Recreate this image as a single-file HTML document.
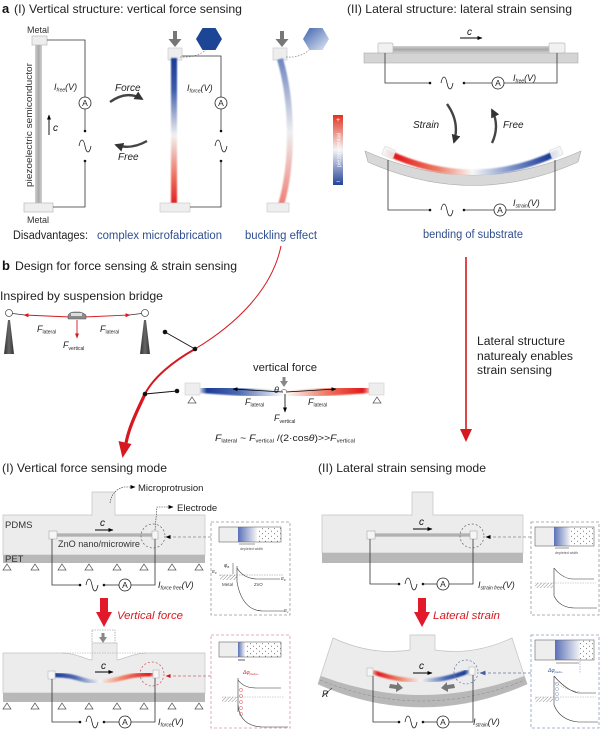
<!DOCTYPE html>
<html><head><meta charset="utf-8"><style>
html,body{margin:0;padding:0;background:#fff;}
svg{display:block;font-family:"Liberation Sans",Arial,sans-serif;}
</style></head><body>
<svg width="600" height="730" viewBox="0 0 600 730" xmlns="http://www.w3.org/2000/svg">
<defs>
<linearGradient id="gGray" x1="0" y1="0" x2="1" y2="0"><stop offset="0" stop-color="#d0d0d0"/><stop offset="0.5" stop-color="#a9a9a9"/><stop offset="1" stop-color="#d0d0d0"/></linearGradient>
<linearGradient id="gGrayH" x1="0" y1="0" x2="0" y2="1"><stop offset="0" stop-color="#cfcfcf"/><stop offset="0.5" stop-color="#a8a8a8"/><stop offset="1" stop-color="#cfcfcf"/></linearGradient>
<linearGradient id="gRod" gradientUnits="userSpaceOnUse" x1="0" y1="60" x2="0" y2="205"><stop offset="0" stop-color="#1b3c96"/><stop offset="0.2" stop-color="#3b5aa8"/><stop offset="0.52" stop-color="#f1f1f1"/><stop offset="0.8" stop-color="#ec7260"/><stop offset="1" stop-color="#e2191b"/></linearGradient>
<linearGradient id="gBuck" gradientUnits="userSpaceOnUse" x1="0" y1="60" x2="0" y2="205"><stop offset="0" stop-color="#6f86c2"/><stop offset="0.5" stop-color="#eeeeee"/><stop offset="1" stop-color="#ef7d74"/></linearGradient>
<linearGradient id="gBar" x1="0" y1="0" x2="0" y2="1"><stop offset="0" stop-color="#e2321f"/><stop offset="0.5" stop-color="#f4f4f4"/><stop offset="1" stop-color="#23439a"/></linearGradient>
<linearGradient id="gHex" x1="0" y1="0" x2="1" y2="1"><stop offset="0" stop-color="#3d62ad"/><stop offset="1" stop-color="#e3e9f4"/></linearGradient>
<linearGradient id="gBent" gradientUnits="userSpaceOnUse" x1="385" y1="0" x2="560" y2="0"><stop offset="0" stop-color="#f4c8c0"/><stop offset="0.06" stop-color="#e2191b"/><stop offset="0.3" stop-color="#ee7a62"/><stop offset="0.5" stop-color="#f7f7f7"/><stop offset="0.72" stop-color="#7d92c9"/><stop offset="0.94" stop-color="#1b3c96"/><stop offset="1" stop-color="#c7d0e8"/></linearGradient>
<linearGradient id="gBeamL" gradientUnits="userSpaceOnUse" x1="200" y1="0" x2="284" y2="0"><stop offset="0" stop-color="#c9d1e8"/><stop offset="0.08" stop-color="#1b3c96"/><stop offset="0.45" stop-color="#4a67b0"/><stop offset="1" stop-color="#ffffff"/></linearGradient>
<linearGradient id="gBeamR" gradientUnits="userSpaceOnUse" x1="284" y1="0" x2="370" y2="0"><stop offset="0" stop-color="#ffffff"/><stop offset="0.55" stop-color="#ec6a55"/><stop offset="0.92" stop-color="#e2191b"/><stop offset="1" stop-color="#f3c3bd"/></linearGradient>
<linearGradient id="gWireL" gradientUnits="userSpaceOnUse" x1="55" y1="0" x2="155" y2="0"><stop offset="0" stop-color="#1b3c96"/><stop offset="0.2" stop-color="#4d69b2"/><stop offset="0.45" stop-color="#f4f4f4"/><stop offset="0.65" stop-color="#ef8c70"/><stop offset="0.95" stop-color="#e2191b"/><stop offset="1" stop-color="#f0b0a8"/></linearGradient>
<linearGradient id="gWireR" gradientUnits="userSpaceOnUse" x1="372" y1="0" x2="470" y2="0"><stop offset="0" stop-color="#f0b0a8"/><stop offset="0.06" stop-color="#e2191b"/><stop offset="0.3" stop-color="#ef8c70"/><stop offset="0.5" stop-color="#f4f4f4"/><stop offset="0.75" stop-color="#4d69b2"/><stop offset="0.95" stop-color="#1b3c96"/><stop offset="1" stop-color="#c7d0e8"/></linearGradient>
<linearGradient id="gDep" x1="0" y1="0" x2="1" y2="0"><stop offset="0" stop-color="#5a70b8"/><stop offset="1" stop-color="#f6f6f6"/></linearGradient>
<linearGradient id="gTower" x1="0" y1="0" x2="1" y2="0"><stop offset="0" stop-color="#333"/><stop offset="0.5" stop-color="#666"/><stop offset="1" stop-color="#333"/></linearGradient>
<pattern id="dots" width="6" height="5" patternUnits="userSpaceOnUse"><circle cx="1.5" cy="1.2" r="0.45" fill="#333"/><circle cx="4.5" cy="3.7" r="0.45" fill="#333"/></pattern>
<pattern id="hatch" width="2.5" height="2.5" patternUnits="userSpaceOnUse" patternTransform="rotate(45)"><line x1="0" y1="0" x2="0" y2="2.5" stroke="#555" stroke-width="0.7"/></pattern>
<filter id="blur" x="-50%" y="-10%" width="200%" height="120%"><feGaussianBlur stdDeviation="0.7"/></filter>
<marker id="ak" viewBox="0 0 10 10" refX="9" refY="5" markerWidth="5" markerHeight="5" markerUnits="userSpaceOnUse" orient="auto"><path d="M0,1 L10,5 L0,9 z" fill="#000"/></marker>
<marker id="ar" viewBox="0 0 10 10" refX="9" refY="5" markerWidth="5" markerHeight="5" markerUnits="userSpaceOnUse" orient="auto"><path d="M0,1 L10,5 L0,9 z" fill="#d7191f"/></marker>
<marker id="ag" viewBox="0 0 10 10" refX="9" refY="5" markerWidth="6" markerHeight="6" markerUnits="userSpaceOnUse" orient="auto"><path d="M0,1 L10,5 L0,9 z" fill="#888"/></marker>
<marker id="ab" viewBox="0 0 10 10" refX="9" refY="5" markerWidth="6" markerHeight="6" markerUnits="userSpaceOnUse" orient="auto"><path d="M0,1 L10,5 L0,9 z" fill="#445f9e"/></marker>
<marker id="ad" viewBox="0 0 10 10" refX="8" refY="5" markerWidth="9" markerHeight="9" markerUnits="userSpaceOnUse" orient="auto"><path d="M0,0 L10,5 L0,10 z" fill="#333"/></marker>
<g id="sine"><path d="M-6,0 C-4.5,-8 -1.5,-8 0,0 C1.5,8 4.5,8 6,0" fill="none" stroke="#222" stroke-width="0.8"/></g>
<g id="amm"><circle r="6" fill="#fff" stroke="#222" stroke-width="0.8"/><text y="3" text-anchor="middle" font-size="8.5" fill="#222">A</text></g>
<g id="tri"><path d="M0,0 L-4,6 L4,6 Z" fill="#fff" stroke="#555" stroke-width="0.7"/></g>
</defs>

<!-- ============ SECTION a ============ -->
<text x="2" y="13" font-size="13" font-weight="bold" fill="#111">a</text>
<text x="14" y="13" font-size="12" fill="#222" textLength="228" lengthAdjust="spacingAndGlyphs">(I) Vertical structure: vertical force sensing</text>
<text x="347" y="13" font-size="12" fill="#222" textLength="225" lengthAdjust="spacingAndGlyphs">(II) Lateral structure: lateral strain sensing</text>

<!-- left device -->
<text x="27" y="33" font-size="9" fill="#333">Metal</text>
<rect x="32" y="36" width="15" height="9" fill="#eee" stroke="#bbb" stroke-width="0.7"/>
<rect x="35" y="45" width="7" height="158" fill="url(#gGray)"/>
<rect x="24" y="203" width="29" height="9" fill="#eee" stroke="#bbb" stroke-width="0.7"/>
<text x="27" y="223" font-size="9" fill="#333">Metal</text>
<text transform="translate(32,125) rotate(-90)" text-anchor="middle" font-size="9.5" fill="#333" textLength="124" lengthAdjust="spacingAndGlyphs">piezoelectric semiconductor</text>
<line x1="49" y1="135" x2="49" y2="115" stroke="#000" stroke-width="0.9" marker-end="url(#ak)"/>
<text x="53" y="131" font-size="10" font-style="italic" fill="#111">c</text>
<polyline points="47,40 85,40 85,97" fill="none" stroke="#333" stroke-width="0.8"/>
<use href="#amm" x="85" y="103"/>
<line x1="85" y1="109" x2="85" y2="131" stroke="#333" stroke-width="0.8"/>
<circle cx="85" cy="131" r="1.3" fill="#111"/>
<use href="#sine" x="85" y="146"/>
<circle cx="85" cy="161" r="1.3" fill="#111"/>
<polyline points="85,161 85,207 53,207" fill="none" stroke="#333" stroke-width="0.8"/>
<text x="54" y="90" font-size="9" font-style="italic" fill="#222">I<tspan font-size="5" dy="1.5">free</tspan><tspan dy="-1.5">(V)</tspan></text>

<!-- Force / Free arrows -->
<text x="115" y="91" font-size="10" font-style="italic" fill="#222">Force</text>
<path d="M110,102 Q127,90 142,99" fill="none" stroke="#444" stroke-width="2.4" marker-end="url(#ad)"/>
<path d="M147,141 Q131,150 116,145" fill="none" stroke="#444" stroke-width="2.4" marker-end="url(#ad)"/>
<text x="118" y="160" font-size="10" font-style="italic" fill="#222">Free</text>

<!-- middle force device -->
<rect x="173" y="31" width="4" height="9" fill="#777"/>
<path d="M168.5,39 L181.5,39 L175,47 Z" fill="#777"/>
<path d="M196,39 L202.5,28 L215.5,28 L222,39 L215.5,50 L202.5,50 Z" fill="#1d4596"/>
<rect x="168" y="48" width="14" height="12" fill="#eee" stroke="#ccc" stroke-width="0.7"/>
<rect x="171" y="58" width="6" height="147" fill="url(#gRod)" filter="url(#blur)"/>
<rect x="160" y="203" width="30" height="9" fill="#eee" stroke="#ccc" stroke-width="0.7"/>
<path d="M180,57 Q196,58 206,50" fill="none" stroke="#888" stroke-width="0.8" stroke-dasharray="1.5,1.5"/>
<polyline points="182,56 221,56 221,97" fill="none" stroke="#333" stroke-width="0.8"/>
<use href="#amm" x="221" y="103"/>
<line x1="221" y1="109" x2="221" y2="131" stroke="#333" stroke-width="0.8"/>
<circle cx="221" cy="131" r="1.3" fill="#111"/>
<use href="#sine" x="221" y="146"/>
<circle cx="221" cy="161" r="1.3" fill="#111"/>
<polyline points="221,161 221,207 190,207" fill="none" stroke="#333" stroke-width="0.8"/>
<text x="187" y="91" font-size="9" font-style="italic" fill="#222">I<tspan font-size="5" dy="1.5">force</tspan><tspan dy="-1.5">(V)</tspan></text>

<!-- buckled device -->
<rect x="280" y="31" width="4" height="9" fill="#777"/>
<path d="M275.5,39 L288.5,39 L282,47 Z" fill="#777"/>
<path d="M303,39 L309.5,28 L322.5,28 L329,39 L322.5,50 L309.5,50 Z" fill="url(#gHex)"/>
<rect x="273" y="48" width="14" height="12" fill="#eee" stroke="#ccc" stroke-width="0.7"/>
<path d="M280,59 C292,100 294,160 281,205" fill="none" stroke="url(#gBuck)" stroke-width="6" filter="url(#blur)"/>
<rect x="267" y="203" width="22" height="9" fill="#eee" stroke="#ccc" stroke-width="0.7"/>
<path d="M286,57 Q300,58 309,50" fill="none" stroke="#888" stroke-width="0.8" stroke-dasharray="1.5,1.5"/>

<!-- colour bar -->
<rect x="333" y="115" width="10" height="70" fill="url(#gBar)"/>
<text x="338" y="122" text-anchor="middle" font-size="7" fill="#fff">+</text>
<text x="338" y="184" text-anchor="middle" font-size="7" fill="#fff">−</text>
<text transform="translate(340.5,150) rotate(-90)" text-anchor="middle" font-size="5.5" fill="#fff">piezopotential</text>

<text x="13" y="239" font-size="11.5" fill="#222" textLength="75" lengthAdjust="spacingAndGlyphs">Disadvantages:</text>
<text x="97" y="239" font-size="11.5" fill="#2f4f8f" textLength="125" lengthAdjust="spacingAndGlyphs">complex microfabrication</text>
<text x="245" y="239" font-size="11.5" fill="#2f4f8f" textLength="72" lengthAdjust="spacingAndGlyphs">buckling effect</text>

<!-- right lateral device -->
<rect x="364" y="53" width="214" height="10" fill="#d4d4d4" stroke="#aaa" stroke-width="0.6"/>
<rect x="393" y="46" width="156" height="7" fill="url(#gGrayH)"/>
<rect x="378" y="43" width="15" height="10" rx="1.5" fill="#f1f1f1" stroke="#bbb" stroke-width="0.7"/>
<rect x="549" y="43" width="16" height="10" rx="1.5" fill="#f1f1f1" stroke="#bbb" stroke-width="0.7"/>
<line x1="460" y1="38" x2="482" y2="38" stroke="#000" stroke-width="0.9" marker-end="url(#ak)"/>
<text x="467" y="35" font-size="10" font-style="italic" fill="#111">c</text>
<polyline points="385,53 385,83 430,83" fill="none" stroke="#333" stroke-width="0.8"/>
<circle cx="430" cy="83" r="1.3" fill="#111"/>
<use href="#sine" x="447" y="83"/>
<circle cx="464" cy="83" r="1.3" fill="#111"/>
<line x1="464" y1="83" x2="492" y2="83" stroke="#333" stroke-width="0.8"/>
<use href="#amm" x="498" y="83"/>
<polyline points="504,83 557,83 557,53" fill="none" stroke="#333" stroke-width="0.8"/>
<text x="513" y="81" font-size="9" font-style="italic" fill="#222">I<tspan font-size="5" dy="1.5">free</tspan><tspan dy="-1.5">(V)</tspan></text>

<text x="413" y="128" font-size="10" font-style="italic" fill="#222">Strain</text>
<path d="M447,104 Q460,122 454,142" fill="none" stroke="#444" stroke-width="2.4" marker-end="url(#ad)"/>
<path d="M492,143 Q500,126 492,110" fill="none" stroke="#444" stroke-width="2.4" marker-end="url(#ad)"/>
<text x="503" y="128" font-size="10" font-style="italic" fill="#222">Free</text>

<path d="M365,151 Q473,199 581,151 L578,162 Q473,209 368,162 Z" fill="#d8d8d8" stroke="#aaa" stroke-width="0.6"/>
<path d="M386,152 Q473,193 559,152" fill="none" stroke="url(#gBent)" stroke-width="6" filter="url(#blur)"/>
<rect x="383" y="148" width="12" height="9" rx="1.5" fill="#f4f4f4" stroke="#ccc" stroke-width="0.5" transform="rotate(22 389 152)" opacity="0.85"/>
<rect x="550" y="148" width="12" height="9" rx="1.5" fill="#f4f4f4" stroke="#ccc" stroke-width="0.5" transform="rotate(-22 556 152)" opacity="0.85"/>
<polyline points="388,160 388,210 430,210" fill="none" stroke="#333" stroke-width="0.8"/>
<circle cx="430" cy="210" r="1.3" fill="#111"/>
<use href="#sine" x="447" y="210"/>
<circle cx="464" cy="210" r="1.3" fill="#111"/>
<line x1="464" y1="210" x2="494" y2="210" stroke="#333" stroke-width="0.8"/>
<use href="#amm" x="500" y="210"/>
<polyline points="506,210 555,210 555,160" fill="none" stroke="#333" stroke-width="0.8"/>
<text x="513" y="206" font-size="9" font-style="italic" fill="#222">I<tspan font-size="5" dy="1.5">strain</tspan><tspan dy="-1.5">(V)</tspan></text>
<text x="423" y="238" font-size="11.5" fill="#2f4f8f" textLength="100" lengthAdjust="spacingAndGlyphs">bending of substrate</text>

<!-- ============ SECTION b ============ -->
<text x="2" y="270" font-size="13" font-weight="bold" fill="#111">b</text>
<text x="15" y="270" font-size="12" fill="#222" textLength="222" lengthAdjust="spacingAndGlyphs">Design for force sensing &amp; strain sensing</text>
<text x="0" y="300" font-size="12" fill="#222" textLength="163" lengthAdjust="spacingAndGlyphs">Inspired by suspension bridge</text>

<!-- bridge -->
<path d="M8,320 L10,320 L14,354 L4,354 Z" fill="url(#gTower)"/>
<path d="M144,320 L146,320 L150,354 L140,354 Z" fill="url(#gTower)"/>
<circle cx="9" cy="313" r="3.5" fill="#fff" stroke="#555" stroke-width="0.8"/>
<circle cx="145" cy="313" r="3.5" fill="#fff" stroke="#555" stroke-width="0.8"/>
<line x1="12.5" y1="313.5" x2="25" y2="315" stroke="#333" stroke-width="0.8"/>
<line x1="129" y1="315" x2="141.5" y2="313.5" stroke="#333" stroke-width="0.8"/>
<line x1="70" y1="317" x2="24" y2="315" stroke="#d7191f" stroke-width="0.9" marker-end="url(#ar)"/>
<line x1="84" y1="317" x2="130" y2="315" stroke="#d7191f" stroke-width="0.9" marker-end="url(#ar)"/>
<path d="M68,319 L68,315 Q70,312 74,312 L80,312 Q84,313 86,315 L86,319 Z" fill="#8a8a8a" stroke="#555" stroke-width="0.5"/>
<rect x="71" y="313" width="11" height="3" fill="#ddd"/>
<line x1="77" y1="320" x2="77" y2="338" stroke="#d7191f" stroke-width="0.9" marker-end="url(#ar)"/>
<text x="37" y="332" font-size="9" font-style="italic" fill="#222">F<tspan font-size="5" dy="1.5" font-style="normal">lateral</tspan></text>
<text x="100" y="332" font-size="9" font-style="italic" fill="#222">F<tspan font-size="5" dy="1.5" font-style="normal">lateral</tspan></text>
<text x="63" y="348" font-size="9" font-style="italic" fill="#222">F<tspan font-size="5" dy="2" font-style="normal">vertical</tspan></text>

<!-- red curved arrow -->
<path d="M281,246 C272,290 235,325 195,349" fill="none" stroke="#d7191f" stroke-width="1"/>
<path d="M195,349 C172,362 153,378 145,394" fill="none" stroke="#d7191f" stroke-width="2"/>
<path d="M145,394 C137,411 129,427 126,443" fill="none" stroke="#d7191f" stroke-width="3.2"/>
<path d="M118.5,441 L131.5,444 L122.5,458 Z" fill="#d7191f"/>
<line x1="195" y1="349" x2="165" y2="332" stroke="#111" stroke-width="0.9"/>
<circle cx="195" cy="349" r="2.3" fill="#111"/>
<circle cx="165" cy="332" r="2.3" fill="#111"/>
<line x1="145" y1="394" x2="177" y2="391" stroke="#111" stroke-width="0.9"/>
<circle cx="145" cy="394" r="2.3" fill="#111"/>
<circle cx="177" cy="391" r="2.3" fill="#111"/>

<!-- beam -->
<text x="253" y="371" font-size="11" fill="#222" textLength="64" lengthAdjust="spacingAndGlyphs">vertical force</text>
<path d="M200,389 L284,395" fill="none" stroke="url(#gBeamL)" stroke-width="8" filter="url(#blur)"/>
<path d="M284,395 L370,389" fill="none" stroke="url(#gBeamR)" stroke-width="8" filter="url(#blur)"/>
<rect x="185" y="383" width="15" height="12" fill="#eee" stroke="#ccc" stroke-width="0.6"/>
<rect x="369" y="383" width="15" height="12" fill="#eee" stroke="#ccc" stroke-width="0.6"/>
<use href="#tri" x="192" y="397"/>
<use href="#tri" x="377" y="397"/>
<rect x="282.5" y="377" width="3" height="5" fill="#888"/>
<path d="M280,381 L288,381 L284,387 Z" fill="#888"/>
<text x="274" y="393" font-size="9" font-style="italic" fill="#222">θ</text>
<path d="M281,391 Q284,388 287,391" fill="none" stroke="#333" stroke-width="0.5"/>
<line x1="283" y1="392" x2="233" y2="389" stroke="#000" stroke-width="0.8" marker-end="url(#ak)"/>
<line x1="286" y1="392" x2="336" y2="389" stroke="#000" stroke-width="0.8" marker-end="url(#ak)"/>
<line x1="285" y1="394" x2="285" y2="412" stroke="#000" stroke-width="0.8" marker-end="url(#ak)"/>
<text x="245" y="405" font-size="9" font-style="italic" fill="#222">F<tspan font-size="5" dy="1.5" font-style="normal">lateral</tspan></text>
<text x="308" y="405" font-size="9" font-style="italic" fill="#222">F<tspan font-size="5" dy="1.5" font-style="normal">lateral</tspan></text>
<text x="274" y="421" font-size="9" font-style="italic" fill="#222">F<tspan font-size="5" dy="2" font-style="normal">vertical</tspan></text>
<text x="215" y="441" font-size="9" fill="#222" textLength="140" lengthAdjust="spacingAndGlyphs"><tspan font-style="italic">F</tspan><tspan font-size="5" dy="1.5">lateral</tspan><tspan dy="-1.5"> ~ </tspan><tspan font-style="italic">F</tspan><tspan font-size="5" dy="1.5">vertical</tspan><tspan dy="-1.5"> /(2·cos</tspan><tspan font-style="italic">θ</tspan><tspan>)&gt;&gt;</tspan><tspan font-style="italic">F</tspan><tspan font-size="5" dy="1.5">vertical</tspan></text>

<!-- right arrow -->
<line x1="466" y1="257" x2="466" y2="431" stroke="#d7191f" stroke-width="1.6"/>
<path d="M460,429 L472,429 L466,442 Z" fill="#d7191f"/>
<text x="477" y="345" font-size="11.5" fill="#222" textLength="88" lengthAdjust="spacingAndGlyphs">Lateral structure</text>
<text x="477" y="360" font-size="11.5" fill="#222" textLength="96" lengthAdjust="spacingAndGlyphs">naturealy enables</text>
<text x="477" y="374" font-size="11.5" fill="#222" textLength="75" lengthAdjust="spacingAndGlyphs">strain sensing</text>

<text x="2" y="472" font-size="12" fill="#222" textLength="165" lengthAdjust="spacingAndGlyphs">(I) Vertical force sensing mode</text>
<text x="318" y="472" font-size="12" fill="#222" textLength="168" lengthAdjust="spacingAndGlyphs">(II) Lateral strain sensing mode</text>

<!-- ============ bottom-left upper ============ -->
<path d="M3,515 H92 V492 H115 V515 H205 V555 H3 Z" fill="#ececec" stroke="#c2c2c2" stroke-width="0.7"/>
<rect x="3" y="555" width="202" height="8" fill="#b8b8b8"/>
<text x="5" y="528" font-size="9.5" fill="#333">PDMS</text>
<text x="5" y="562" font-size="9.5" fill="#333">PET</text>
<rect x="57" y="533" width="96" height="4" fill="url(#gGrayH)"/>
<rect x="49" y="531" width="8" height="8" fill="#f6f6f6" stroke="#aaa" stroke-width="0.6"/>
<rect x="152" y="531" width="6" height="8" fill="#f6f6f6" stroke="#aaa" stroke-width="0.6"/>
<line x1="95" y1="530" x2="113" y2="530" stroke="#000" stroke-width="0.9" marker-end="url(#ak)"/>
<text x="100" y="526" font-size="10" font-style="italic" fill="#111">c</text>
<text x="58" y="547" font-size="9" fill="#333" textLength="82" lengthAdjust="spacingAndGlyphs">ZnO nano/microwire</text>
<circle cx="153" cy="536" r="12" fill="none" stroke="#666" stroke-width="0.7" stroke-dasharray="2,2"/>
<path d="M110,503 Q112,490 124,487 L135,487" fill="none" stroke="#333" stroke-width="0.6" stroke-dasharray="1.5,1" marker-end="url(#ak)"/>
<text x="138" y="491" font-size="9.5" fill="#222">Microprotrusion</text>
<path d="M155,530 L157,507 L173,507" fill="none" stroke="#333" stroke-width="0.6" stroke-dasharray="1.5,1" marker-end="url(#ak)"/>
<text x="177" y="511" font-size="9.5" fill="#222">Electrode</text>
<line x1="211" y1="537" x2="166" y2="537" stroke="#888" stroke-width="0.8" stroke-dasharray="3,2" marker-end="url(#ak)"/>
<use href="#tri" x="7" y="564"/><use href="#tri" x="35" y="564"/><use href="#tri" x="62" y="564"/><use href="#tri" x="89" y="564"/><use href="#tri" x="117" y="564"/><use href="#tri" x="144" y="564"/><use href="#tri" x="172" y="564"/><use href="#tri" x="199" y="564"/>
<polyline points="52,539 52,585 80,585" fill="none" stroke="#333" stroke-width="0.8"/>
<circle cx="80" cy="585" r="1.3" fill="#111"/>
<use href="#sine" x="92" y="585"/>
<circle cx="104" cy="585" r="1.3" fill="#111"/>
<line x1="104" y1="585" x2="119" y2="585" stroke="#333" stroke-width="0.8"/>
<use href="#amm" x="125" y="585"/>
<polyline points="131,585 155,585 155,539" fill="none" stroke="#333" stroke-width="0.8"/>
<text x="158" y="588" font-size="9" font-style="italic" fill="#222">I<tspan font-size="5" dy="1.5">force free</tspan><tspan dy="-1.5">(V)</tspan></text>

<!-- inset 1 -->
<rect x="211" y="522" width="79" height="93" fill="none" stroke="#999" stroke-width="0.8" stroke-dasharray="3,2"/>
<rect x="219" y="527" width="19" height="15" fill="#eee"/>
<rect x="238" y="527" width="19" height="15" fill="url(#gDep)"/>
<rect x="257" y="527" width="24" height="15" fill="url(#dots)"/>
<rect x="219" y="527" width="62" height="15" fill="none" stroke="#666" stroke-width="0.6"/>
<line x1="239" y1="544" x2="255" y2="544" stroke="#333" stroke-width="0.5"/>
<text x="240" y="550" font-size="3.6" fill="#555">depleted width</text>
<line x1="219" y1="575" x2="284" y2="575" stroke="#888" stroke-width="0.5" stroke-dasharray="1.5,1"/>
<rect x="220" y="575" width="17" height="5" fill="url(#hatch)"/>
<line x1="237" y1="566" x2="237" y2="582" stroke="#333" stroke-width="0.6"/>
<path d="M237,568 Q243,578 256,579 L280,579" fill="none" stroke="#333" stroke-width="0.6"/>
<path d="M237,582 Q242,610 262,611 L284,611" fill="none" stroke="#333" stroke-width="0.6"/>
<line x1="233" y1="563" x2="233" y2="574" stroke="#333" stroke-width="0.5"/>
<text x="224" y="567" font-size="5" font-style="italic" fill="#333">φ<tspan font-size="3" dy="1">B</tspan></text>
<text x="212" y="573" font-size="4.5" font-style="italic" fill="#333">E<tspan font-size="3" dy="1">F</tspan></text>
<text x="281" y="580" font-size="4.5" font-style="italic" fill="#333">E<tspan font-size="3" dy="1">F</tspan></text>
<text x="222" y="586" font-size="4.5" fill="#444">Metal</text>
<text x="254" y="586" font-size="4.5" fill="#444">ZnO</text>
<text x="284" y="612" font-size="4.5" font-style="italic" fill="#333">E<tspan font-size="3" dy="1">v</tspan></text>

<!-- ============ bottom-left lower ============ -->
<rect x="100" y="598" width="8" height="16" fill="#e2192a"/>
<path d="M96,612 L112,612 L104,627 Z" fill="#e2192a"/>
<text x="117" y="619" font-size="11" font-style="italic" fill="#d7191f" textLength="66" lengthAdjust="spacingAndGlyphs">Vertical force</text>
<rect x="92" y="630" width="23" height="13" fill="none" stroke="#888" stroke-width="0.6" stroke-dasharray="1.5,1"/>
<rect x="101.5" y="633" width="3" height="5" fill="#888"/>
<path d="M99,637 L107,637 L103,643 Z" fill="#888"/>
<path d="M3,653 H62 C75,653 85,659 92,660 V643 H117 V660 C124,659 134,653 147,653 H205 V693 H3 Z" fill="#ececec" stroke="#c2c2c2" stroke-width="0.7"/>
<line x1="62" y1="653" x2="147" y2="653" stroke="#999" stroke-width="0.6" stroke-dasharray="1.5,1"/>
<rect x="3" y="693" width="202" height="9" fill="#b8b8b8"/>
<path d="M55,675 C78,675 84,683 100,682 C118,681 128,674 153,674" fill="none" stroke="url(#gWireL)" stroke-width="4.5" filter="url(#blur)"/>
<rect x="48" y="671" width="7" height="8" fill="#f6f6f6" stroke="#aaa" stroke-width="0.5"/>
<rect x="153" y="670" width="6" height="8" fill="#f6f6f6" stroke="#aaa" stroke-width="0.5"/>
<line x1="95" y1="672" x2="113" y2="672" stroke="#000" stroke-width="0.9" marker-end="url(#ak)"/>
<text x="101" y="669" font-size="10" font-style="italic" fill="#111">c</text>
<circle cx="152" cy="674" r="12" fill="none" stroke="#d05060" stroke-width="0.7" stroke-dasharray="2,2"/>
<line x1="211" y1="676" x2="166" y2="676" stroke="#d06070" stroke-width="0.8" stroke-dasharray="3,2" marker-end="url(#ar)"/>
<use href="#tri" x="7" y="703"/><use href="#tri" x="35" y="703"/><use href="#tri" x="62" y="703"/><use href="#tri" x="89" y="703"/><use href="#tri" x="117" y="703"/><use href="#tri" x="144" y="703"/><use href="#tri" x="172" y="703"/><use href="#tri" x="199" y="703"/>
<polyline points="52,679 52,722 80,722" fill="none" stroke="#333" stroke-width="0.8"/>
<circle cx="80" cy="722" r="1.3" fill="#111"/>
<use href="#sine" x="92" y="722"/>
<circle cx="104" cy="722" r="1.3" fill="#111"/>
<line x1="104" y1="722" x2="119" y2="722" stroke="#333" stroke-width="0.8"/>
<use href="#amm" x="125" y="722"/>
<polyline points="131,722 155,722 155,678" fill="none" stroke="#333" stroke-width="0.8"/>
<text x="158" y="725" font-size="9" font-style="italic" fill="#222">I<tspan font-size="5" dy="1.5">force</tspan><tspan dy="-1.5">(V)</tspan></text>

<!-- inset 2 -->
<rect x="211" y="635" width="79" height="93" fill="none" stroke="#d89aa4" stroke-width="0.8" stroke-dasharray="3,2"/>
<rect x="219" y="642" width="19" height="15" fill="#eee"/>
<rect x="238" y="642" width="7" height="15" fill="url(#gDep)"/>
<rect x="245" y="642" width="36" height="15" fill="url(#dots)"/>
<rect x="219" y="642" width="62" height="15" fill="none" stroke="#666" stroke-width="0.6"/>
<line x1="238" y1="660" x2="245" y2="660" stroke="#333" stroke-width="0.8"/>
<text x="243" y="674" font-size="5" font-style="italic" fill="#d7191f">Δφ<tspan font-size="3" dy="1">piezo+</tspan></text>
<line x1="222" y1="697" x2="284" y2="697" stroke="#aaa" stroke-width="0.5" stroke-dasharray="1.5,1"/>
<rect x="222" y="697" width="15" height="5" fill="url(#hatch)"/>
<line x1="238" y1="678" x2="238" y2="712" stroke="#333" stroke-width="0.6"/>
<path d="M238,680 Q244,688 256,688 L281,688" fill="none" stroke="#333" stroke-width="0.6"/>
<path d="M238,705 Q240,726 262,727 L288,727" fill="none" stroke="#333" stroke-width="0.6"/>
<g fill="none" stroke="#d7191f" stroke-width="0.4">
<circle cx="241" cy="690" r="1.6"/><circle cx="241" cy="696" r="1.6"/><circle cx="241" cy="702" r="1.6"/><circle cx="241" cy="708" r="1.6"/><circle cx="241" cy="714" r="1.6"/>
</g>

<!-- ============ bottom-right upper ============ -->
<path d="M322,515 H412 V492 H433 V515 H523 V553 H322 Z" fill="#ececec" stroke="#c2c2c2" stroke-width="0.7"/>
<rect x="322" y="553" width="201" height="10" fill="#b8b8b8"/>
<rect x="375" y="533" width="96" height="4" fill="url(#gGrayH)"/>
<rect x="367" y="531" width="8" height="8" fill="#f6f6f6" stroke="#aaa" stroke-width="0.6"/>
<rect x="470" y="531" width="7" height="8" fill="#f6f6f6" stroke="#aaa" stroke-width="0.6"/>
<line x1="413" y1="529" x2="432" y2="529" stroke="#000" stroke-width="0.9" marker-end="url(#ak)"/>
<text x="419" y="525" font-size="10" font-style="italic" fill="#111">c</text>
<circle cx="472" cy="536" r="12" fill="none" stroke="#666" stroke-width="0.7" stroke-dasharray="2,2"/>
<line x1="531" y1="537" x2="486" y2="537" stroke="#888" stroke-width="0.8" stroke-dasharray="3,2" marker-end="url(#ak)"/>
<polyline points="370,539 370,584 399,584" fill="none" stroke="#333" stroke-width="0.8"/>
<circle cx="399" cy="584" r="1.3" fill="#111"/>
<use href="#sine" x="411" y="584"/>
<circle cx="423" cy="584" r="1.3" fill="#111"/>
<line x1="423" y1="584" x2="437" y2="584" stroke="#333" stroke-width="0.8"/>
<use href="#amm" x="443" y="584"/>
<polyline points="449,584 473,584 473,539" fill="none" stroke="#333" stroke-width="0.8"/>
<text x="478" y="588" font-size="9" font-style="italic" fill="#222">I<tspan font-size="5" dy="1.5">strain free</tspan><tspan dy="-1.5">(V)</tspan></text>

<!-- inset 3 -->
<rect x="531" y="522" width="68" height="93" fill="none" stroke="#999" stroke-width="0.8" stroke-dasharray="3,2"/>
<rect x="535" y="527" width="19" height="19" fill="#eee"/>
<rect x="554" y="527" width="16" height="19" fill="url(#gDep)"/>
<rect x="570" y="527" width="24" height="19" fill="url(#dots)"/>
<rect x="535" y="527" width="59" height="19" fill="none" stroke="#666" stroke-width="0.6"/>
<line x1="555" y1="548" x2="569" y2="548" stroke="#333" stroke-width="0.5"/>
<text x="555" y="554" font-size="3.6" fill="#555">depleted width</text>
<line x1="535" y1="583" x2="596" y2="583" stroke="#aaa" stroke-width="0.5" stroke-dasharray="1.5,1"/>
<rect x="535" y="583" width="18" height="5" fill="url(#hatch)"/>
<line x1="554" y1="568" x2="554" y2="596" stroke="#333" stroke-width="0.6"/>
<path d="M554,568 Q562,578 572,579 L594,579" fill="none" stroke="#333" stroke-width="0.6"/>
<path d="M554,596 Q560,608 575,608 L597,608" fill="none" stroke="#333" stroke-width="0.6"/>

<!-- ============ bottom-right lower ============ -->
<rect x="418" y="598" width="8" height="16" fill="#e2192a"/>
<path d="M414,612 L430,612 L422,627 Z" fill="#e2192a"/>
<text x="433" y="619" font-size="11" font-style="italic" fill="#d7191f" textLength="67" lengthAdjust="spacingAndGlyphs">Lateral strain</text>
<path d="M333,638 Q372,656 410,650 V635 H435 V650 Q473,656 512,638 L527,684 Q422,730 318,684 Z" fill="#ececec" stroke="#c2c2c2" stroke-width="0.7"/>
<path d="M321,676 Q422,714 524,676 L527,684 Q422,730 318,684 Z" fill="#b8b8b8"/>
<path d="M320,680 Q422,722 525,680" fill="none" stroke="#888" stroke-width="0.5" stroke-dasharray="3,2"/>
<path d="M373,672 Q422,690 469,671" fill="none" stroke="url(#gWireR)" stroke-width="4.5" filter="url(#blur)"/>
<rect x="367" y="668" width="6" height="8" fill="#f6f6f6" stroke="#aaa" stroke-width="0.5"/>
<rect x="469" y="667" width="6" height="8" fill="#f6f6f6" stroke="#aaa" stroke-width="0.5"/>
<line x1="413" y1="673" x2="432" y2="673" stroke="#000" stroke-width="0.9" marker-end="url(#ak)"/>
<text x="419" y="669" font-size="10" font-style="italic" fill="#111">c</text>
<path d="M390,684 L397,685 L397,682 L403,688 L396,692 L396,689 L389,688 Z" fill="#777"/>
<path d="M454,684 L447,685 L447,682 L441,688 L448,692 L448,689 L455,688 Z" fill="#777"/>
<circle cx="466" cy="672" r="12" fill="none" stroke="#6678a8" stroke-width="0.7" stroke-dasharray="2,2"/>
<line x1="531" y1="673" x2="480" y2="673" stroke="#6678a8" stroke-width="0.8" stroke-dasharray="3,2" marker-end="url(#ab)"/>
<line x1="322" y1="697" x2="332" y2="688" stroke="#333" stroke-width="0.6"/>
<text x="322" y="697" font-size="9" font-style="italic" fill="#222">R</text>
<polyline points="373,676 373,722 399,722" fill="none" stroke="#333" stroke-width="0.8"/>
<circle cx="399" cy="722" r="1.3" fill="#111"/>
<use href="#sine" x="411" y="722"/>
<circle cx="423" cy="722" r="1.3" fill="#111"/>
<line x1="423" y1="722" x2="437" y2="722" stroke="#333" stroke-width="0.8"/>
<use href="#amm" x="443" y="722"/>
<polyline points="449,722 473,722 473,675" fill="none" stroke="#333" stroke-width="0.8"/>
<text x="473" y="725" font-size="9" font-style="italic" fill="#222">I<tspan font-size="5" dy="1.5">strain</tspan><tspan dy="-1.5">(V)</tspan></text>

<!-- inset 4 -->
<rect x="531" y="635" width="68" height="93" fill="none" stroke="#8e9cc0" stroke-width="0.8" stroke-dasharray="3,2"/>
<rect x="535" y="640" width="20" height="20" fill="#eee"/>
<rect x="555" y="640" width="25" height="20" fill="url(#gDep)"/>
<rect x="580" y="640" width="14" height="20" fill="url(#dots)"/>
<rect x="535" y="640" width="59" height="20" fill="none" stroke="#666" stroke-width="0.6"/>
<line x1="556" y1="663" x2="579" y2="663" stroke="#333" stroke-width="0.6"/>
<line x1="580" y1="661" x2="580" y2="673" stroke="#6678a8" stroke-width="0.5" stroke-dasharray="1.5,1"/>
<text x="548" y="672" font-size="5" font-style="italic" fill="#2f4f8f">Δφ<tspan font-size="3" dy="1">piezo-</tspan></text>
<line x1="535" y1="697" x2="596" y2="697" stroke="#aaa" stroke-width="0.5" stroke-dasharray="1.5,1"/>
<rect x="535" y="697" width="18" height="5" fill="url(#hatch)"/>
<line x1="554" y1="676" x2="554" y2="705" stroke="#333" stroke-width="0.6"/>
<path d="M554,676 Q566,690 578,693 L596,693" fill="none" stroke="#333" stroke-width="0.6"/>
<path d="M554,682 Q566,690 580,692" fill="none" stroke="#888" stroke-width="0.5" stroke-dasharray="1.5,1"/>
<path d="M554,705 Q560,720 578,722 L598,722" fill="none" stroke="#333" stroke-width="0.6"/>
<g fill="none" stroke="#6678a8" stroke-width="0.4">
<circle cx="557" cy="684" r="1.6"/><circle cx="557" cy="689" r="1.6"/><circle cx="557" cy="694" r="1.6"/><circle cx="557" cy="699" r="1.6"/>
</g>
</svg>
</body></html>
